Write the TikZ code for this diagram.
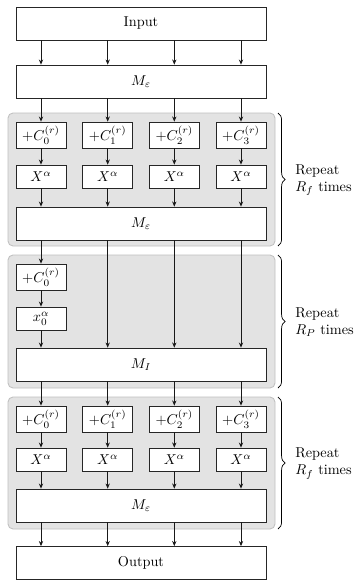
\documentclass[tikz,border=0pt]{standalone}
\usetikzlibrary{arrows.meta,decorations.pathreplacing}
\begin{document}
\begin{tikzpicture}[x=0.7pt,y=-0.7pt,
  box/.style={draw=black!85,line width=0.5pt,fill=white,inner sep=0pt},
  bigbox/.style={box,minimum width=175pt,minimum height=23.1pt},
  cbox/.style={box,minimum width=35pt,minimum height=18.2pt},
  xbox/.style={box,minimum width=35pt,minimum height=16.1pt},
  panel/.style={draw=black!25,fill=black!11,line width=0.6pt,rounded corners=3.5pt},
  arr/.style={-{Stealth[length=3.6pt,width=3pt]},line width=0.5pt,draw=black!90},
  brc/.style={decorate,decoration={brace,amplitude=5pt},line width=0.5pt},
  lbl/.style={anchor=west,align=left,inner sep=0pt}]
\useasboundingbox (0,0) rectangle (354,580);
% panels
\draw[panel] (8,113) rectangle (275,246);
\draw[panel] (8,255) rectangle (275,388);
\draw[panel] (8,397) rectangle (275,529);
% column coordinates
\coordinate (k0) at (41,0);
\coordinate (k1) at (107.7,0);
\coordinate (k2) at (174.3,0);
\coordinate (k3) at (241,0);
% big boxes
\node[bigbox] (in) at (141,23.5) {Input};
\node[bigbox] (me1) at (141,81.5) {$M_\varepsilon$};
\node[bigbox] (me2) at (141,223.5) {$M_\varepsilon$};
\node[bigbox] (mi) at (141,364.5) {$M_I$};
\node[bigbox] (me3) at (141,505.5) {$M_\varepsilon$};
\node[bigbox] (out) at (141,563) {Output};
% round block 1
\node[cbox] (a0) at (41,135) {$+C_0^{(r)}$};
\node[cbox] (a1) at (107.7,135) {$+C_1^{(r)}$};
\node[cbox] (a2) at (174.3,135) {$+C_2^{(r)}$};
\node[cbox] (a3) at (241,135) {$+C_3^{(r)}$};
\node[xbox] (b0) at (41,176.5) {$X^\alpha$};
\node[xbox] (b1) at (107.7,176.5) {$X^\alpha$};
\node[xbox] (b2) at (174.3,176.5) {$X^\alpha$};
\node[xbox] (b3) at (241,176.5) {$X^\alpha$};
% partial block
\node[cbox] (p0) at (41,277) {$+C_0^{(r)}$};
\node[xbox] (q0) at (41,318.5) {$x_0^\alpha$};
% round block 3
\node[cbox] (d0) at (41,419) {$+C_0^{(r)}$};
\node[cbox] (d1) at (107.7,419) {$+C_1^{(r)}$};
\node[cbox] (d2) at (174.3,419) {$+C_2^{(r)}$};
\node[cbox] (d3) at (241,419) {$+C_3^{(r)}$};
\node[xbox] (e0) at (41,459.5) {$X^\alpha$};
\node[xbox] (e1) at (107.7,459.5) {$X^\alpha$};
\node[xbox] (e2) at (174.3,459.5) {$X^\alpha$};
\node[xbox] (e3) at (241,459.5) {$X^\alpha$};
% arrows
\foreach \i in {0,1,2,3}{
  \draw[arr] (in.south -| k\i) -- (me1.north -| k\i);
  \draw[arr] (me1.south -| k\i) -- (a\i);
  \draw[arr] (a\i) -- (b\i);
  \draw[arr] (b\i) -- (me2.north -| k\i);
  \draw[arr] (mi.south -| k\i) -- (d\i);
  \draw[arr] (d\i) -- (e\i);
  \draw[arr] (e\i) -- (me3.north -| k\i);
  \draw[arr] (me3.south -| k\i) -- (out.north -| k\i);
}
\draw[arr] (me2.south -| k0) -- (p0);
\draw[arr] (p0) -- (q0);
\draw[arr] (q0) -- (mi.north -| k0);
\foreach \i in {1,2,3}{
  \draw[arr] (me2.south -| k\i) -- (mi.north -| k\i);
}
% braces
\coordinate (t1) at (278,113); \coordinate (u1) at (278,246);
\coordinate (t2) at (278,255); \coordinate (u2) at (278,388);
\coordinate (t3) at (278,397); \coordinate (u3) at (278,529);
\draw[brc] (t1) -- (u1);
\draw[brc] (t2) -- (u2);
\draw[brc] (t3) -- (u3);
\node[lbl] (l1) at (295,180) {Repeat\\$R_f$ times};
\node[lbl] (l2) at (295,322) {Repeat\\$R_P$ times};
\node[lbl] (l3) at (295,463.5) {Repeat\\$R_f$ times};
\end{tikzpicture}
\end{document}
